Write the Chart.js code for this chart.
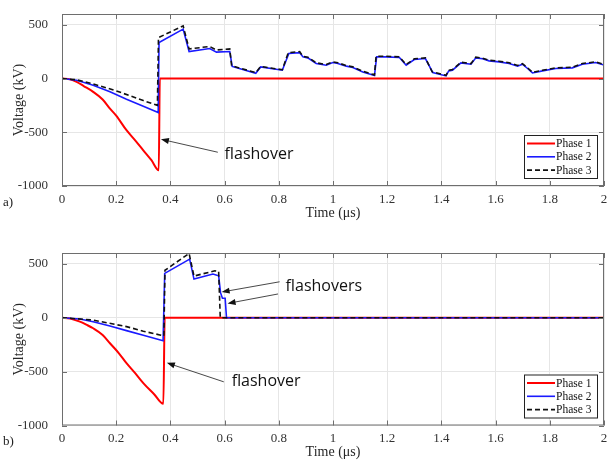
<!DOCTYPE html>
<html>
<head>
<meta charset="utf-8">
<script src="https://cdn.jsdelivr.net/npm/chart.js@4"></script>
<style>
body { margin: 0; background: #fff; }
#wrap { position: relative; width: 607px; height: 461px; }
canvas { position: absolute; left: 0; }
.lbl { position: absolute; font: 13px "Liberation Serif"; color: #222; }
</style>
</head>
<body>
<div id="wrap">
  <canvas id="chartA" width="607" height="225" style="top:0"></canvas>
  <canvas id="chartB" width="607" height="236" style="top:225px"></canvas>
  <span class="lbl" style="left:3px;top:194px">a)</span>
  <span class="lbl" style="left:3px;top:433px">b)</span>
</div>
<script>
// axis ticks
const xTicks = [0, 0.2, 0.4, 0.6, 0.8, 1, 1.2, 1.4, 1.6, 1.8, 2];
const xTickLabels = ['0', '0.2', '0.4', '0.6', '0.8', '1', '1.2', '1.4', '1.6', '1.8', '2'];
const yTicks = [-1000, -500, 0, 500];
const seriesNames = ['Phase 1', 'Phase 2', 'Phase 3'];

// a) phase voltages (time in us, voltage in kV)
const aTime1 = [0, 0.03, 0.054, 0.08, 0.115, 0.15, 0.177, 0.2, 0.238, 0.27, 0.30, 0.33, 0.357, 0.361, 2];
const aVolt1 = [0, -8, -31, -70, -124, -195, -280, -345, -481, -575, -668, -760, -854, 0, 0];

const aTime2 = [0, 0.054, 0.115, 0.177, 0.238, 0.30, 0.355, 0.358, 0.447, 0.469, 0.545, 0.57, 0.619, 0.628,
  0.715, 0.733, 0.813, 0.837, 0.877, 0.889, 0.907, 0.938, 0.975, 0.999, 1.018, 1.049, 1.073, 1.11, 1.153, 1.161,
  1.196, 1.245, 1.27, 1.30, 1.341, 1.368, 1.417, 1.427, 1.441, 1.472, 1.509, 1.527, 1.552, 1.576, 1.613, 1.65,
  1.681, 1.699, 1.718, 1.736, 1.773, 1.822, 1.883, 1.92, 1.969, 2.0];
const aVolt2 = [0, -16, -62, -124, -193, -258, -317, 335, 459, 251, 279, 245, 251, 112,
  49, 108, 77, 233, 240, 201, 192, 140, 124, 149, 140, 115, 102, 61, 28, 201,
  201, 196, 124, 177, 186, 56, 24, 71, 77, 145, 133, 192, 183, 164, 155, 140,
  115, 133, 93, 52, 71, 93, 99, 133, 149, 125];

const aTime3 = [0, 0.054, 0.115, 0.2, 0.3, 0.352, 0.356, 0.447, 0.469, 0.545, 0.57, 0.619, 0.626,
  0.715, 0.733, 0.813, 0.835, 0.877, 0.889, 0.907, 0.938, 0.975, 0.999, 1.018, 1.049, 1.073, 1.11, 1.153, 1.159,
  1.196, 1.245, 1.27, 1.30, 1.341, 1.366, 1.417, 1.427, 1.441, 1.472, 1.509, 1.527, 1.552, 1.576, 1.613, 1.65,
  1.681, 1.699, 1.718, 1.736, 1.773, 1.822, 1.883, 1.92, 1.969, 2.0];
const aVolt3 = [0, -12, -50, -115, -205, -250, 380, 490, 275, 298, 265, 275, 118,
  55, 112, 82, 240, 250, 207, 198, 146, 130, 155, 146, 121, 108, 67, 34, 207,
  207, 202, 130, 183, 192, 62, 30, 77, 83, 151, 139, 198, 189, 170, 161, 146,
  121, 139, 99, 58, 77, 99, 105, 139, 155, 131];

// b) phase voltages
const bTime1 = [0, 0.03, 0.066, 0.09, 0.115, 0.15, 0.177, 0.21, 0.238, 0.27, 0.30, 0.34, 0.374, 0.379, 2];
const bVolt1 = [0, -8, -37, -65, -98, -160, -237, -330, -422, -515, -607, -710, -799, 0, 0];

const bTime2 = [0, 0.066, 0.115, 0.177, 0.238, 0.30, 0.373, 0.379, 0.471, 0.487, 0.557, 0.578, 0.585, 0.592, 0.602, 0.607, 2];
const bVolt2 = [0, -12, -37, -77, -120, -163, -213, 411, 543, 358, 405, 389, 232, 180, 180, 0, 0];

const bTime3 = [0, 0.115, 0.238, 0.30, 0.361, 0.376, 0.38, 0.469, 0.487, 0.564, 0.578, 0.584, 2];
const bVolt3 = [0, -22, -83, -125, -160, -170, 440, 596, 386, 435, 430, 0, 0];

const pts = (t, v) => t.map((x, i) => ({ x: x, y: v[i] }));

// higher order is drawn first: red underneath, dashed black on top
const styles = [
  { borderColor: '#ff0000', borderWidth: 2, borderDash: [], order: 3, cubicInterpolationMode: 'monotone' },
  { borderColor: '#1a1aff', borderWidth: 1.6, borderDash: [], order: 2 },
  { borderColor: '#111111', borderWidth: 1.6, borderDash: [5, 3], order: 1 }
];

function drawArrow(ctx, x1, y1, x2, y2) {
  const ang = Math.atan2(y2 - y1, x2 - x1);
  ctx.beginPath();
  ctx.moveTo(x1, y1);
  ctx.lineTo(x2 - 5 * Math.cos(ang), y2 - 5 * Math.sin(ang));
  ctx.stroke();
  ctx.beginPath();
  ctx.moveTo(x2, y2);
  ctx.lineTo(x2 - 8 * Math.cos(ang) + 3 * Math.sin(ang), y2 - 8 * Math.sin(ang) - 3 * Math.cos(ang));
  ctx.lineTo(x2 - 8 * Math.cos(ang) - 3 * Math.sin(ang), y2 - 8 * Math.sin(ang) + 3 * Math.cos(ang));
  ctx.closePath();
  ctx.fill();
}

const framePlugin = {
  id: 'frame',
  afterDraw(chart) {
    const { ctx, chartArea: a, scales: { x, y } } = chart;
    ctx.save();
    // box and inward ticks
    ctx.strokeStyle = '#6e6e6e';
    ctx.lineWidth = 1;
    ctx.strokeRect(a.left + 0.5, a.top + 0.5, a.right - a.left - 1, a.bottom - a.top - 1);
    ctx.beginPath();
    xTicks.forEach(v => {
      const px = Math.round(x.getPixelForValue(v)) + 0.5;
      ctx.moveTo(px, a.bottom); ctx.lineTo(px, a.bottom - 5);
      ctx.moveTo(px, a.top); ctx.lineTo(px, a.top + 5);
    });
    yTicks.forEach(v => {
      const py = Math.round(y.getPixelForValue(v)) + 0.5;
      ctx.moveTo(a.left, py); ctx.lineTo(a.left + 5, py);
      ctx.moveTo(a.right, py); ctx.lineTo(a.right - 5, py);
    });
    ctx.stroke();

    // annotations
    const notes = chart.options.plugins.frame.notes || [];
    ctx.strokeStyle = '#333';
    ctx.fillStyle = '#111';
    ctx.lineWidth = 0.9;
    notes.forEach(n => {
      if (n.arrow) {
        drawArrow(ctx, x.getPixelForValue(n.arrow[0]), y.getPixelForValue(n.arrow[1]),
          x.getPixelForValue(n.arrow[2]), y.getPixelForValue(n.arrow[3]));
      } else {
        ctx.font = '16px "Open Sans"';
        ctx.textBaseline = 'middle';
        ctx.textAlign = 'left';
        ctx.fillText(n.text, x.getPixelForValue(n.at[0]), y.getPixelForValue(n.at[1]));
      }
    });

    // legend box, bottom right inside the axes
    const w = 73, h = 43;
    const bx = a.right - 80, by = a.bottom - 8 - h;
    ctx.fillStyle = '#fff';
    ctx.fillRect(bx, by, w, h);
    ctx.strokeStyle = '#222';
    ctx.lineWidth = 1;
    ctx.strokeRect(bx + 0.5, by + 0.5, w, h);
    ctx.font = '11.5px "Liberation Serif"';
    ctx.textBaseline = 'middle';
    ctx.textAlign = 'left';
    chart.data.datasets.forEach((ds, i) => {
      const ry = by + 8.5 + i * 13.3;
      ctx.strokeStyle = ds.borderColor;
      ctx.lineWidth = ds.borderWidth;
      ctx.setLineDash(ds.borderDash);
      ctx.beginPath();
      ctx.moveTo(bx + 3, ry);
      ctx.lineTo(bx + 31, ry);
      ctx.stroke();
      ctx.setLineDash([]);
      ctx.fillStyle = '#111';
      ctx.fillText(ds.label, bx + 32, ry + 0.5);
    });
    ctx.restore();
  }
};

function makeChart(id, series, padTop, xHeight, tickPad, titlePad, notes) {
  return new Chart(document.getElementById(id), {
    type: 'line',
    data: {
      datasets: series.map((s, i) => Object.assign({
        label: seriesNames[i],
        data: pts(s[0], s[1]),
        pointRadius: 0,
        tension: 0,
        fill: false
      }, styles[i]))
    },
    options: {
      responsive: false,
      animation: false,
      devicePixelRatio: 1,
      layout: { padding: { top: padTop, right: 3, left: 0, bottom: 0 } },
      plugins: { legend: { display: false }, tooltip: { enabled: false }, frame: { notes: notes } },
      scales: {
        x: {
          type: 'linear', min: 0, max: 2,
          afterBuildTicks: s => { s.ticks = xTicks.map(v => ({ value: v })); },
          afterFit: s => { s.height = xHeight; s.paddingLeft = 0; s.paddingRight = 0; },
          grid: { color: '#e6e6e6', drawTicks: false },
          border: { display: false },
          ticks: {
            autoSkip: false, maxRotation: 0, padding: tickPad, color: '#333',
            font: { family: 'Liberation Serif', size: 13 },
            callback: (v, i) => xTickLabels[i]
          },
          title: {
            display: true, text: 'Time (μs)', color: '#262626',
            font: { family: 'Liberation Serif', size: 14 },
            padding: { top: 0, bottom: titlePad }
          }
        },
        y: {
          min: -1000, max: 600,
          afterBuildTicks: s => { s.ticks = yTicks.map(v => ({ value: v })); },
          afterFit: s => { s.width = 62; s.paddingTop = 0; s.paddingBottom = 0; },
          grid: { color: '#e6e6e6', drawTicks: false },
          border: { display: false },
          ticks: {
            padding: 14, color: '#333',
            font: { family: 'Liberation Serif', size: 13 },
            callback: v => String(v)
          },
          title: {
            display: true, text: 'Voltage (kV)', color: '#262626',
            font: { family: 'Liberation Serif', size: 14 },
            padding: { top: 10.5, bottom: 0 }
          }
        }
      }
    },
    plugins: [framePlugin]
  });
}

makeChart('chartA', [[aTime1, aVolt1], [aTime2, aVolt2], [aTime3, aVolt3]], 14, 39, 6, 3.5, [
  { arrow: [0.575, -686, 0.365, -565] },
  { text: 'flashover', at: [0.6, -705] }
]);

makeChart('chartB', [[bTime1, bVolt1], [bTime2, bVolt2], [bTime3, bVolt3]], 28, 35.5, 5, 0, [
  { arrow: [0.597, -595, 0.387, -419] },
  { text: 'flashover', at: [0.626, -595] },
  { arrow: [0.803, 333, 0.589, 238] },
  { arrow: [0.797, 220, 0.611, 132] },
  { text: 'flashovers', at: [0.825, 294] }
]);
</script>
</body>
</html>
